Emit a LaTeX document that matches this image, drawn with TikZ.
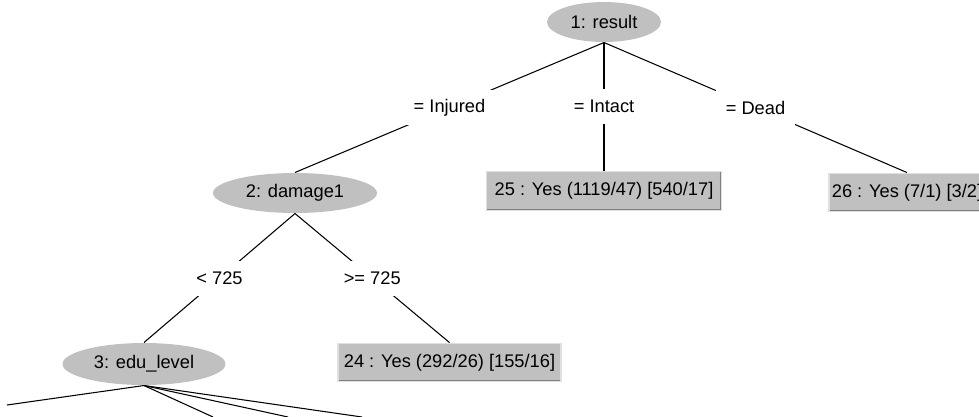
\documentclass[tikz,border=0pt]{standalone}
\usepackage{fontspec}
\setmainfont{Liberation Sans}
\usetikzlibrary{shapes.geometric}
\definecolor{nodegray}{RGB}{192,192,192}
\definecolor{edgedark}{RGB}{128,128,128}
\definecolor{edgelight}{RGB}{224,224,224}

\begin{document}
\begin{tikzpicture}[x=0.02cm, y=-0.02cm, line width=0.6pt,
    every node/.style={font=\fontsize{10.4}{12}\selectfont},
    split/.style={ellipse, fill=nodegray, inner sep=0pt, minimum height=0.8cm},
    leaf/.style={rectangle, fill=nodegray, draw=edgelight, line width=0.8pt, inner sep=0pt, minimum height=0.77cm,
        path picture={\draw[edgedark, line width=1.6pt] (path picture bounding box.south west) -- (path picture bounding box.south east) -- (path picture bounding box.north east);}},
    lbl/.style={fill=white, inner xsep=0.2cm, inner ysep=0pt, minimum height=0.7cm}]

    \useasboundingbox (0, 0) rectangle (979, 416);
    \clip (0, 0) rectangle (979, 416);

    % Splits
    \node at (604, 22) [split, minimum width=2.28cm] (result) {1: result};
    \node at (295, 193) [split, minimum width=3.28cm] (damage) {2: damage1};
    \node at (144, 364) [split, minimum width=3.26cm, minimum height=0.84cm] (edu) {3: edu\_level};

    % Leaves
    \node at (604, 191) [leaf, minimum width=4.7cm] (yes25) {25 : Yes (1119/47) [540/17]};
    \node at (907, 192.5) [leaf, minimum width=3.12cm] (yes26) {26 : Yes (7/1) [3/2]};
    \node at (449.5, 362.5) [leaf, minimum width=4.46cm] (yes24) {24 : Yes (292/26) [155/16]};

    % Branches out of the picture
    \coordinate (edu1) at (7, 405);
    \coordinate (edu2) at (213, 417);
    \coordinate (edu3) at (288, 417);
    \coordinate (edu4) at (362, 417);

    \draw (result.south) -- (damage.north) node[midway, lbl] {= Injured};
    \draw (result.south) -- (yes25.north) node[midway, lbl] {= Intact};
    \draw (result.south) -- (yes26.north) node[midway, lbl] {= Dead};

    \draw (damage.south) -- (edu.north) node[midway, lbl] {< 725};
    \draw (damage.south) -- (yes24.north) node[midway, lbl] {>= 725};

    \draw (edu.south) -- (edu1);
    \draw (edu.south) -- (edu2);
    \draw (edu.south) -- (edu3);
    \draw (edu.south) -- (edu4);

\end{tikzpicture}
\end{document}
